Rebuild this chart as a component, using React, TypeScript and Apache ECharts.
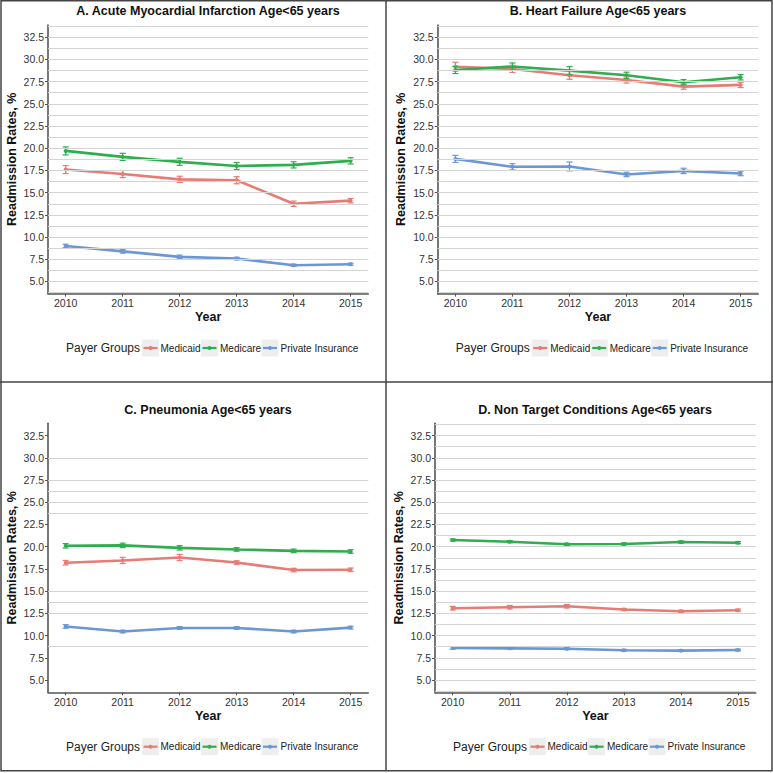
import React, { useEffect, useRef } from "react";
import * as echarts from "echarts";

// ---------- DATA ----------
const YEARS = [2010, 2011, 2012, 2013, 2014, 2015];
const GROUPS = ["Medicaid", "Medicare", "Private Insurance"];
const Y_TICKS = [5, 7.5, 10, 12.5, 15, 17.5, 20, 22.5, 25, 27.5, 30, 32.5];
const PANEL_TITLES = [
  "A. Acute Myocardial Infarction Age<65 years",
  "B. Heart Failure Age<65 years",
  "C. Pneumonia Age<65 years",
  "D. Non Target Conditions Age<65 years",
];
const LEGEND_TITLE = "Payer Groups";
const X_TITLE = "Year";
const Y_TITLE = "Readmission Rates, %";

// A. AMI
const AMI_MEDICAID = [17.6, 17.1, 16.5, 16.4, 13.75, 14.1];
const AMI_MEDICAID_ERR = [0.45, 0.4, 0.35, 0.4, 0.3, 0.25];
const AMI_MEDICARE = [19.7, 19.03, 18.47, 18.0, 18.13, 18.58];
const AMI_MEDICARE_ERR = [0.45, 0.4, 0.4, 0.4, 0.35, 0.35];
const AMI_PRIVATE = [9.0, 8.39, 7.77, 7.58, 6.83, 6.94];
const AMI_PRIVATE_ERR = [0.2, 0.2, 0.2, 0.15, 0.12, 0.12];

// B. Heart failure
const HF_MEDICAID = [29.18, 28.93, 28.21, 27.69, 26.94, 27.13];
const HF_MEDICAID_ERR = [0.5, 0.4, 0.45, 0.35, 0.3, 0.3];
const HF_MEDICARE = [28.81, 29.2, 28.74, 28.21, 27.43, 27.99];
const HF_MEDICARE_ERR = [0.4, 0.4, 0.45, 0.35, 0.3, 0.3];
const HF_PRIVATE = [18.8, 17.91, 17.95, 17.05, 17.45, 17.16];
const HF_PRIVATE_ERR = [0.4, 0.35, 0.5, 0.25, 0.3, 0.25];

// C. Pneumonia
const PN_MEDICAID = [18.2, 18.45, 18.78, 18.22, 17.37, 17.4];
const PN_MEDICAID_ERR = [0.25, 0.35, 0.35, 0.2, 0.2, 0.2];
const PN_MEDICARE = [20.1, 20.15, 19.87, 19.69, 19.53, 19.46];
const PN_MEDICARE_ERR = [0.25, 0.25, 0.25, 0.2, 0.2, 0.2];
const PN_PRIVATE = [11.03, 10.46, 10.86, 10.86, 10.46, 10.9];
const PN_PRIVATE_ERR = [0.2, 0.15, 0.15, 0.15, 0.15, 0.15];

// D. Non target conditions
const NT_MEDICAID = [13.08, 13.19, 13.3, 12.93, 12.74, 12.86];
const NT_MEDICAID_ERR = [0.2, 0.2, 0.2, 0.12, 0.12, 0.12];
const NT_MEDICARE = [20.75, 20.56, 20.27, 20.31, 20.52, 20.45];
const NT_MEDICARE_ERR = [0.12, 0.12, 0.12, 0.12, 0.12, 0.12];
const NT_PRIVATE = [8.61, 8.57, 8.53, 8.35, 8.31, 8.38];
const NT_PRIVATE_ERR = [0.15, 0.12, 0.12, 0.1, 0.1, 0.1];

// horizontal gridlines visible in each panel
const GRID_FULL = [3.75, 5, 6.25, 7.5, 8.75, 10, 11.25, 12.5, 13.75, 15, 16.25, 17.5, 18.75, 20, 21.25, 22.5, 23.75, 25, 26.25, 27.5, 28.75, 30, 31.25, 32.5, 33.75];
const GRID_C = [8.75, 12.5, 13.75, 15, 23.75, 25, 26.25, 27.5, 30];

const PANEL_VALUES = [
  [AMI_MEDICAID, AMI_MEDICARE, AMI_PRIVATE],
  [HF_MEDICAID, HF_MEDICARE, HF_PRIVATE],
  [PN_MEDICAID, PN_MEDICARE, PN_PRIVATE],
  [NT_MEDICAID, NT_MEDICARE, NT_PRIVATE],
];
const PANEL_ERRORS = [
  [AMI_MEDICAID_ERR, AMI_MEDICARE_ERR, AMI_PRIVATE_ERR],
  [HF_MEDICAID_ERR, HF_MEDICARE_ERR, HF_PRIVATE_ERR],
  [PN_MEDICAID_ERR, PN_MEDICARE_ERR, PN_PRIVATE_ERR],
  [NT_MEDICAID_ERR, NT_MEDICARE_ERR, NT_PRIVATE_ERR],
];
const PANEL_GRIDLINES = [GRID_FULL, GRID_FULL, GRID_C, GRID_FULL];

// ---------- STYLE / LAYOUT ----------
const COLORS = ["#E67C73", "#2EAE4E", "#6B97D6"];
const FONT = "'Liberation Sans', Arial, sans-serif";
const LAYOUT = [
  { left: 48, top: 25, width: 320.3, height: 268.7, titleX: 208, titleY: 11, legendY: 348 },
  { left: 437.7, top: 25, width: 320.6, height: 268.7, titleX: 598, titleY: 11, legendY: 348 },
  { left: 48, top: 423.3, width: 320.3, height: 269, titleX: 208, titleY: 410, legendY: 746.7 },
  { left: 435, top: 423.3, width: 320.7, height: 269, titleX: 595, titleY: 409.5, legendY: 746.7 },
];
const KEY_BOX_DX = [94, 153, 213.5];
const KEY_TEXT_DX = [112.5, 172, 232.5];

export default function App() {
  const ref = useRef<HTMLDivElement>(null);

  useEffect(() => {
    if (!ref.current) return;
    const chart = echarts.init(ref.current, undefined, { renderer: "svg" });

    const grids: any[] = [];
    const xAxes: any[] = [];
    const yAxes: any[] = [];
    const series: any[] = [];
    const graphics: any[] = [];

    LAYOUT.forEach((L, p) => {
      grids.push({ left: L.left, top: L.top, width: L.width, height: L.height, containLabel: false });
      xAxes.push({
        gridIndex: p,
        type: "value",
        min: 2009.69,
        max: 2015.31,
        name: X_TITLE,
        nameLocation: "middle",
        nameGap: 17,
        nameTextStyle: { fontFamily: FONT, fontWeight: "bold", fontSize: 12.5, color: "#111" },
        axisLine: { show: true, lineStyle: { color: "#555", width: 1.6 } },
        axisTick: { show: true, length: 3, lineStyle: { color: "#555" }, customValues: YEARS },
        axisLabel: {
          show: true,
          margin: 4,
          fontFamily: FONT,
          fontSize: 10.5,
          color: "#333",
          customValues: YEARS,
          formatter: (v: number) => String(Math.round(v)),
        },
        splitLine: { show: false },
      });
      yAxes.push({
        gridIndex: p,
        type: "value",
        min: 3.625,
        max: 33.875,
        name: Y_TITLE,
        nameLocation: "middle",
        nameGap: 30,
        nameRotate: 90,
        nameTextStyle: { fontFamily: FONT, fontWeight: "bold", fontSize: 12.5, color: "#111" },
        axisLine: { show: true, onZero: false, lineStyle: { color: "#555", width: 1.6 } },
        axisTick: { show: true, length: 3, lineStyle: { color: "#555" }, customValues: Y_TICKS },
        axisLabel: {
          show: true,
          margin: 4,
          fontFamily: FONT,
          fontSize: 10.5,
          color: "#333",
          customValues: Y_TICKS,
          formatter: (v: number) => v.toFixed(1),
        },
        splitLine: { show: false },
      });

      // gridlines
      series.push({
        type: "line",
        xAxisIndex: p,
        yAxisIndex: p,
        data: [],
        silent: true,
        z: 1,
        markLine: {
          silent: true,
          symbol: ["none", "none"],
          label: { show: false },
          lineStyle: { color: "#d4d4d4", width: 1, type: "solid" },
          emphasis: { disabled: true },
          data: PANEL_GRIDLINES[p].map((v) => ({ yAxis: v })),
        },
      });

      GROUPS.forEach((g, gi) => {
        const vals = PANEL_VALUES[p][gi];
        const errs = PANEL_ERRORS[p][gi];
        series.push({
          type: "line",
          name: g,
          xAxisIndex: p,
          yAxisIndex: p,
          z: 3,
          data: YEARS.map((y, i) => [y, vals[i]]),
          symbol: "circle",
          symbolSize: 4,
          showSymbol: true,
          itemStyle: { color: COLORS[gi] },
          lineStyle: { color: COLORS[gi], width: 2.6 },
        });
        series.push({
          type: "custom",
          name: g + " error",
          xAxisIndex: p,
          yAxisIndex: p,
          z: 4,
          data: YEARS.map((y, i) => [y, vals[i], errs[i]]),
          encode: { x: 0, y: 1 },
          renderItem: (params: any, api: any) => {
            const x = api.value(0);
            const y = api.value(1);
            const e = api.value(2);
            const top = api.coord([x, y + e]);
            const bot = api.coord([x, y - e]);
            const hw = 3;
            const st = { stroke: COLORS[gi], lineWidth: 1.2 };
            return {
              type: "group",
              children: [
                { type: "line", shape: { x1: top[0], y1: top[1], x2: bot[0], y2: bot[1] }, style: st },
                { type: "line", shape: { x1: top[0] - hw, y1: top[1], x2: top[0] + hw, y2: top[1] }, style: st },
                { type: "line", shape: { x1: bot[0] - hw, y1: bot[1], x2: bot[0] + hw, y2: bot[1] }, style: st },
              ],
            };
          },
        });
      });

      // title
      graphics.push({
        type: "text",
        x: L.titleX,
        y: L.titleY,
        style: {
          text: PANEL_TITLES[p],
          fontFamily: FONT,
          fontWeight: "bold",
          fontSize: 12.5,
          fill: "#111",
          align: "center",
          verticalAlign: "middle",
        },
      });

      // legend
      graphics.push({
        type: "text",
        x: L.left + 18,
        y: L.legendY,
        style: {
          text: LEGEND_TITLE,
          fontFamily: FONT,
          fontSize: 12,
          fill: "#222",
          align: "left",
          verticalAlign: "middle",
        },
      });
      GROUPS.forEach((g, gi) => {
        const bx = L.left + KEY_BOX_DX[gi];
        graphics.push({
          type: "rect",
          shape: { x: bx, y: L.legendY - 8.5, width: 17, height: 17 },
          style: { fill: "#eeeeee" },
        });
        graphics.push({
          type: "line",
          shape: { x1: bx + 1.5, y1: L.legendY, x2: bx + 15.5, y2: L.legendY },
          style: { stroke: COLORS[gi], lineWidth: 2.2 },
        });
        graphics.push({
          type: "circle",
          shape: { cx: bx + 8.5, cy: L.legendY, r: 2 },
          style: { fill: COLORS[gi] },
        });
        graphics.push({
          type: "text",
          x: L.left + KEY_TEXT_DX[gi],
          y: L.legendY,
          style: {
            text: g,
            fontFamily: FONT,
            fontSize: 10,
            fill: "#222",
            align: "left",
            verticalAlign: "middle",
          },
        });
      });
    });

    // panel borders
    const bs = { stroke: "#444", lineWidth: 1.5, fill: "none" };
    graphics.push({ type: "rect", shape: { x: 1, y: 0.75, width: 771, height: 770 }, style: bs });
    graphics.push({ type: "line", shape: { x1: 386, y1: 0, x2: 386, y2: 771 }, style: bs });
    graphics.push({ type: "line", shape: { x1: 0, y1: 382, x2: 773, y2: 382 }, style: bs });

    chart.setOption({
      animation: false,
      backgroundColor: "#ffffff",
      grid: grids,
      xAxis: xAxes,
      yAxis: yAxes,
      series,
      graphic: graphics,
    });

    return () => chart.dispose();
  }, []);

  return (
    <div
      ref={ref}
      style={{ position: "fixed", left: 0, top: 0, width: 773, height: 773, background: "#fff" }}
    />
  );
}
